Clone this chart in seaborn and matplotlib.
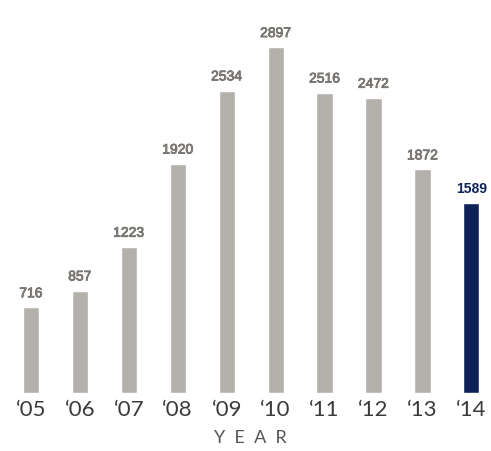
import numpy as np
import pandas as pd
import matplotlib.pyplot as plt
import matplotlib.patheffects as pe
import seaborn as sns

# data
years = ["‘05", "‘06", "‘07", "‘08", "‘09", "‘10", "‘11", "‘12", "‘13", "‘14"]
values = [716, 857, 1223, 1920, 2534, 2897, 2516, 2472, 1872, 1589]
gray = "#b4b0ac"
navy = "#0e2258"
colors = [gray] * 9 + [navy]

df = pd.DataFrame({"Year": years, "Value": values})

sns.set_style("white")
plt.rcParams['font.family'] = ['Liberation Sans', 'DejaVu Sans']

fig = plt.figure(figsize=(4.91, 4.51), dpi=100)
ax = fig.add_axes([0.008, 0.129, 0.992, 0.82])
sns.barplot(data=df, x="Year", y="Value", hue="Year", palette=colors, width=0.33,
            legend=False, ax=ax, saturation=1)

for i, v in enumerate(values):
    if i == 9:
        ax.text(i, v + 60, str(v), ha="center", va="bottom", fontsize=10,
                fontweight="bold", color=navy)
    else:
        ax.text(i, v + 60, str(v), ha="center", va="bottom", fontsize=10,
                color="#807c78",
                path_effects=[pe.withStroke(linewidth=0.5, foreground="#5a5652")])

ax.set_xlim(-0.55, 9.4)
ax.set_ylim(0, 3100)
ax.set_yticks([])
ax.set_ylabel("")
ax.set_xlabel("")
ax.tick_params(axis="x", length=0, pad=5)
for lab in ax.get_xticklabels():
    lab.set_family(['Lato', 'DejaVu Sans'])
    lab.set_fontweight("normal")
    lab.set_fontsize(16)
    lab.set_color("#3a3a3a")
fig.text(0.51, 0.029, "Y  E  A  R", ha="center", va="center", fontsize=13,
         family=['Lato', 'DejaVu Sans'], fontweight="normal", color="#555555")
sns.despine(ax=ax, left=True, bottom=True)

fig.savefig("out.png", dpi=100)
